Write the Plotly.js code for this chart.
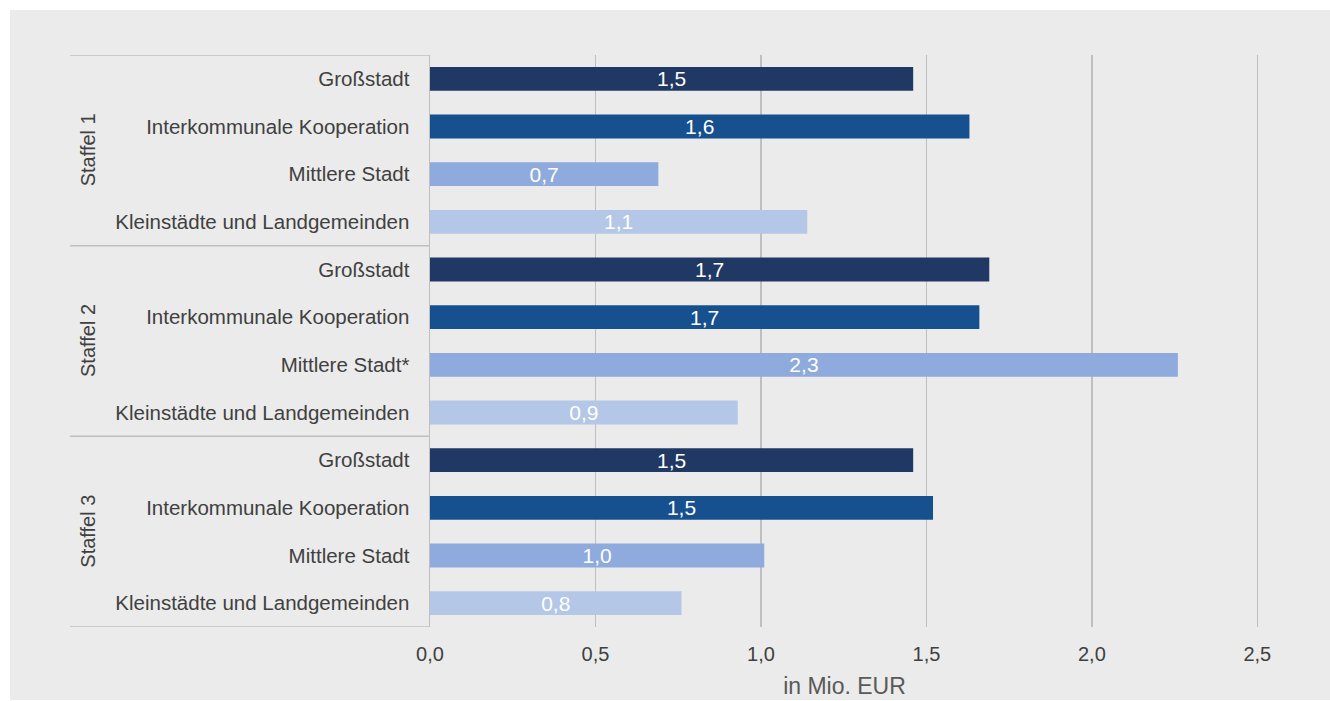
<!DOCTYPE html>
<html>
<head>
<meta charset="utf-8">
<script src="https://cdn.plot.ly/plotly-3.0.1.min.js"></script>
<style>
  html, body { margin: 0; padding: 0; background: #ffffff; }
  #chart { position: absolute; left: 10px; top: 10px; width: 1320px; height: 690px; }
</style>
</head>
<body>
<div id="chart"></div>
<script>
// ---- data ----
const staffeln = ['Staffel 1', 'Staffel 2', 'Staffel 3'];
const kategorien = ['Großstadt', 'Interkommunale Kooperation', 'Mittlere Stadt', 'Kleinstädte und Landgemeinden'];
const labelsStaffel1 = ['Großstadt', 'Interkommunale Kooperation', 'Mittlere Stadt', 'Kleinstädte und Landgemeinden'];
const labelsStaffel2 = ['Großstadt', 'Interkommunale Kooperation', 'Mittlere Stadt*', 'Kleinstädte und Landgemeinden'];
const labelsStaffel3 = ['Großstadt', 'Interkommunale Kooperation', 'Mittlere Stadt', 'Kleinstädte und Landgemeinden'];
const werteStaffel1 = [1.46, 1.63, 0.69, 1.14];
const werteStaffel2 = [1.69, 1.66, 2.26, 0.93];
const werteStaffel3 = [1.46, 1.52, 1.01, 0.76];
const farben = ['#203864', '#17508f', '#8faadc', '#b4c7e7'];
const xTitel = 'in Mio. EUR';

// ---- build ----
const groups = [
  { name: staffeln[0], labels: labelsStaffel1, values: werteStaffel1 },
  { name: staffeln[1], labels: labelsStaffel2, values: werteStaffel2 },
  { name: staffeln[2], labels: labelsStaffel3, values: werteStaffel3 }
];
const ids = [], xs = [], tt = [], cols = [];
groups.forEach((g, gi) => {
  kategorien.forEach((k, ki) => {
    ids.push(g.name + ' | ' + k);
    xs.push(g.values[ki]);
    tt.push(g.labels[ki]);
    cols.push(farben[ki]);
  });
});

const FONT = '"Liberation Sans", Arial, sans-serif';
const lineCol = '#bfbfbf';
const plotLeftPx = 430, boxLeftPx = 70, plotWidthPx = 829;
const boxX = (boxLeftPx - plotLeftPx) / plotWidthPx;
const groupLabelX = (88 - plotLeftPx) / plotWidthPx;

const n = kategorien.length;
const shapes = [];
for (let i = 0; i <= groups.length; i++) {
  const yb = i * n - 0.5;
  shapes.push({
    type: 'line', xref: 'paper', yref: 'y',
    x0: boxX, x1: 0, y0: yb, y1: yb,
    line: { color: lineCol, width: 1.5 }
  });
}
const annotations = groups.map((g, gi) => ({
  xref: 'paper', yref: 'y',
  x: groupLabelX, y: gi * n + (n - 1) / 2,
  text: g.name, textangle: -90, showarrow: false,
  xanchor: 'center', yanchor: 'middle',
  font: { family: FONT, size: 20, color: '#404040' }
}));

const trace = {
  type: 'bar', orientation: 'h',
  y: ids, x: xs,
  marker: { color: cols },
  texttemplate: '%{x:.1f}',
  textposition: 'inside',
  insidetextanchor: 'middle',
  constraintext: 'none',
  textfont: { family: FONT, size: 21, color: '#ffffff' },
  hoverinfo: 'skip'
};

const layout = {
  width: 1320, height: 690,
  margin: { l: 420, r: 71, t: 45, b: 73, pad: 0 },
  paper_bgcolor: '#ebebeb',
  plot_bgcolor: '#ebebeb',
  separators: ',.',
  showlegend: false,
  bargap: 0.5,
  font: { family: FONT, color: '#404040' },
  xaxis: {
    range: [0, 2.505], tickvals: [0, 0.5, 1, 1.5, 2, 2.5],
    tickformat: '.1f',
    showgrid: true, gridcolor: lineCol, gridwidth: 1.5,
    zeroline: false, showline: false, ticks: '',
    ticklabelstandoff: 13,
    tickfont: { family: FONT, size: 20, color: '#404040' },
    title: { text: xTitel, font: { family: FONT, size: 23, color: '#595959' }, standoff: 13 },
    fixedrange: true
  },
  yaxis: {
    type: 'category',
    categoryorder: 'array', categoryarray: ids,
    range: [ids.length - 0.5, -0.5],
    tickvals: ids, ticktext: tt,
    showgrid: false, zeroline: false,
    showline: true, linecolor: lineCol, linewidth: 1.5,
    ticks: '', ticklabelstandoff: 15,
    tickfont: { family: FONT, size: 20.5, color: '#404040' },
    fixedrange: true
  },
  shapes: shapes,
  annotations: annotations
};

Plotly.newPlot('chart', [trace], layout, { displayModeBar: false, staticPlot: true });
</script>
</body>
</html>
